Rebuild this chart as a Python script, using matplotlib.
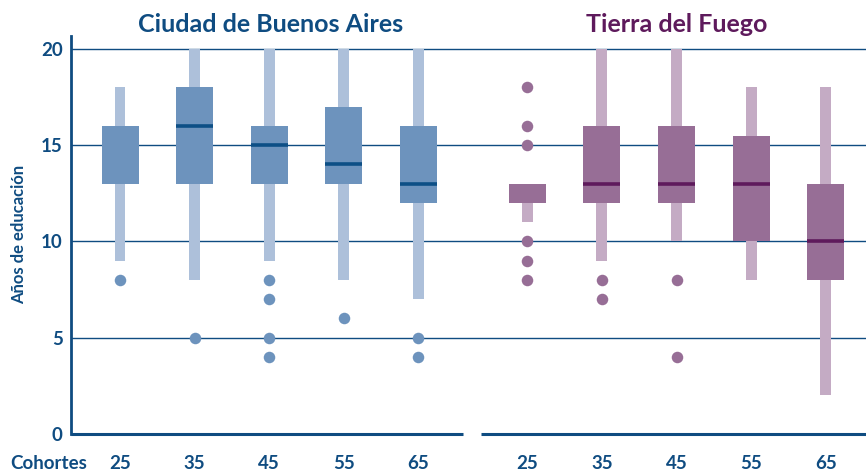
import numpy as np
import matplotlib
matplotlib.use("Agg")
import matplotlib.pyplot as plt

plt.rcParams['font.family'] = ['Lato', 'DejaVu Sans']

cohortes = ['25', '35', '45', '55', '65']

# Ciudad de Buenos Aires
caba_wlo = [9, 8, 9, 8, 7]
caba_whi = [18, 20, 20, 20, 20]
caba_q1 = [13, 13, 13, 13, 12]
caba_q3 = [16, 18, 16, 17, 16]
caba_med = [np.nan, 16, 15, 14, 13]
caba_out = [[8], [5], [8, 7, 5, 4], [6], [5, 4]]

# Tierra del Fuego
tdf_wlo = [11, 9, 10, 8, 2]
tdf_whi = [13, 20, 20, 18, 18]
tdf_q1 = [12, 12, 12, 10, 8]
tdf_q3 = [13, 16, 16, 15.5, 13]
tdf_med = [np.nan, 13, 13, 13, 10]
tdf_out = [[18, 16, 15, 10, 9, 8], [8, 7], [8, 4], [], []]

navy = '#0f4c81'
grupos = [
    dict(wlo=caba_wlo, whi=caba_whi, q1=caba_q1, q3=caba_q3, med=caba_med, out=caba_out,
         box='#6d93bd', wsk='#adc0da', line='#0d4f86', x0=0.0),
    dict(wlo=tdf_wlo, whi=tdf_whi, q1=tdf_q1, q3=tdf_q3, med=tdf_med, out=tdf_out,
         box='#976e96', wsk='#c4abc4', line='#5e1a5c', x0=5.46),
]

fig = plt.figure(figsize=(8.66, 4.73), dpi=100)
ax = fig.add_axes([71 / 866, 39 / 473, 795 / 866, 398.5 / 473])

for yv in [5, 10, 15, 20]:
    ax.axhline(yv, color=navy, lw=1.0, zorder=1)

for g in grupos:
    xs = g['x0'] + np.arange(5)
    lo = np.array(g['wlo'])
    hi = np.array(g['whi'])
    ax.bar(xs, hi - lo, bottom=lo, width=0.147, color=g['wsk'], zorder=2)
    q1 = np.array(g['q1'])
    q3 = np.array(g['q3'])
    ax.bar(xs, q3 - q1, bottom=q1, width=0.496, color=g['box'], zorder=3)
    for x, m in zip(xs, g['med']):
        if not np.isnan(m):
            ax.plot([x - 0.248, x + 0.248], [m, m], color=g['line'], lw=2.6,
                    solid_capstyle='butt', zorder=4)
    for x, pts in zip(xs, g['out']):
        ax.plot([x] * len(pts), pts, 'o', color=g['box'], ms=8.3, mec='none', zorder=4)
    for x, lab in zip(xs, cohortes):
        ax.text(x, -1.55, lab, ha='center', va='center', fontsize=13.5,
                fontweight='bold', color=navy)

ax.set_xlim(-0.657, 10.0)
ax.set_ylim(0, 20.7)
for s in ['top', 'right', 'bottom']:
    ax.spines[s].set_visible(False)
ax.spines['left'].set_color(navy)
ax.spines['left'].set_linewidth(2)
ax.plot([-0.657, 4.6], [0, 0], color=navy, lw=2.2, clip_on=False, zorder=5,
        solid_capstyle='butt')
ax.plot([4.84, 10.0], [0, 0], color=navy, lw=2.2, clip_on=False, zorder=5,
        solid_capstyle='butt')

ax.set_xticks([])
ax.set_yticks([0, 5, 10, 15, 20])
ax.set_yticklabels(['0', '5', '10', '15', '20'], fontsize=13.5, fontweight='bold', color=navy)
ax.tick_params(axis='y', length=0, pad=6)

ax.set_ylabel('Años de educación', fontsize=12, fontweight='bold', color=navy, labelpad=10)

fig.text(10 / 866, 1 - 463 / 473, 'Cohortes', ha='left', va='center', fontsize=13.5,
         fontweight='bold', color=navy)
fig.text(271 / 866, 1 - 25 / 473, 'Ciudad de Buenos Aires', ha='center', va='center',
         fontsize=18, fontweight='bold', color=navy)
fig.text(677 / 866, 1 - 25 / 473, 'Tierra del Fuego', ha='center', va='center',
         fontsize=18, fontweight='bold', color='#5e1a5c')

fig.savefig('out.png', dpi=100)
